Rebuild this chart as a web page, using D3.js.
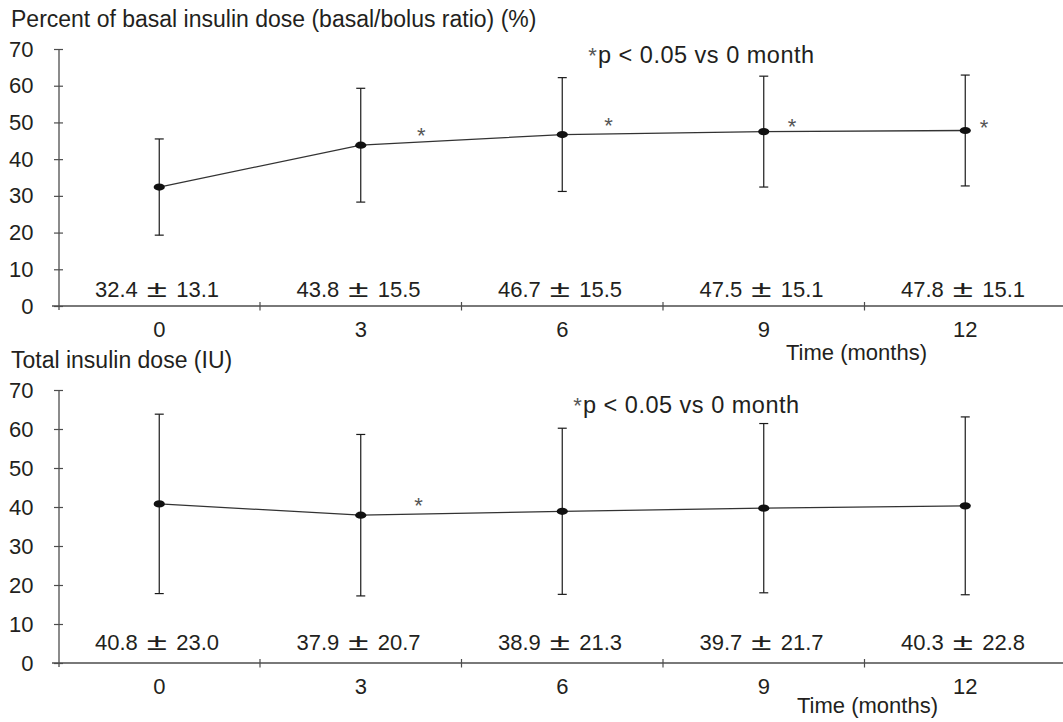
<!DOCTYPE html>
<html>
<head>
<meta charset="utf-8">
<script src="https://cdn.jsdelivr.net/npm/d3@7"></script>
<style>
  html, body { margin: 0; padding: 0; background: #fff; }
  svg { display: block; }
  text { font-family: "Liberation Sans", Arial, Helvetica, sans-serif; fill: #231f20; }
</style>
</head>
<body>
<script>
// ---------------- data ----------------
const categories = ["0", "3", "6", "9", "12"];
const yTicks = [0, 10, 20, 30, 40, 50, 60, 70];

const basalMean = [32.4, 43.8, 46.7, 47.5, 47.8];
const basalSD   = [13.1, 15.5, 15.5, 15.1, 15.1];
const totalMean = [40.8, 37.9, 38.9, 39.7, 40.3];
const totalSD   = [23.0, 20.7, 21.3, 21.7, 22.8];

// significance asterisks: [month, value]
const basalStars = [[3.9, 47.9], [6.69, 50.5], [9.42, 50.3], [12.28, 50.0]];
const totalStars = [[3.86, 41.6]];

const basalTitle = "Percent of basal insulin dose (basal/bolus ratio) (%)";
const totalTitle = "Total insulin dose (IU)";
const xTitle = "Time (months)";
const noteText = "p < 0.05 vs 0 month";

// ---------------- chart ----------------
const W = 1063, H = 722;
const svg = d3.select("body").append("svg").attr("width", W).attr("height", H);
svg.append("rect").attr("width", W).attr("height", H).attr("fill", "#fff");

const FS = 22;
const axisColor = "#4d4d4d";
const x = d3.scaleBand().domain(categories).range([58.5, 1066]);
const bw = x.bandwidth();
const cx = c => x(c) + bw / 2;
const xm = d3.scaleLinear().domain([0, 12]).range([cx("0"), cx("12")]);
const axisX = 59;

function drawPanel(cfg) {
  const g = svg.append("g");
  const y = d3.scaleLinear().domain([0, 70]).range([cfg.y0, cfg.y70]);

  // title
  g.append("text").attr("x", 11).attr("y", cfg.titleY)
    .attr("font-size", 23).text(cfg.title);

  // y axis
  const yAxis = d3.axisLeft(y).tickValues(yTicks).tickSize(5).tickPadding(20.5)
    .tickFormat(d3.format("d"));
  const ya = g.append("g").attr("transform", `translate(${axisX},0)`).call(yAxis);
  ya.select(".domain").remove();
  ya.selectAll(".tick line").attr("x1", 4).attr("x2", -5)
    .attr("stroke", axisColor).attr("stroke-width", 1.2);
  ya.selectAll(".tick text").attr("font-size", FS).attr("fill", "#231f20")
    .attr("font-family", "'Liberation Sans', Arial, Helvetica, sans-serif");
  g.append("line").attr("x1", axisX).attr("x2", axisX)
    .attr("y1", y(70)).attr("y2", cfg.y0 + 4)
    .attr("stroke", axisColor).attr("stroke-width", 1.3);

  // x axis
  g.append("line").attr("x1", 52).attr("x2", W)
    .attr("y1", cfg.y0).attr("y2", cfg.y0)
    .attr("stroke", axisColor).attr("stroke-width", 1.3);
  const boundaries = categories.slice(1).map(c => x(c));
  g.selectAll(".xt").data(boundaries).join("line")
    .attr("x1", d => d).attr("x2", d => d)
    .attr("y1", cfg.y0 - 4).attr("y2", cfg.y0 + 4.5)
    .attr("stroke", axisColor).attr("stroke-width", 1.2);
  const xAxis = d3.axisBottom(x).tickSize(0).tickPadding(15.5);
  const xa = g.append("g").attr("transform", `translate(0,${cfg.y0})`).call(xAxis);
  xa.select(".domain").remove();
  xa.selectAll(".tick text").attr("font-size", FS).attr("fill", "#231f20")
    .attr("font-family", "'Liberation Sans', Arial, Helvetica, sans-serif");

  g.append("text").attr("x", cfg.xTitleX).attr("y", cfg.xTitleY)
    .attr("font-size", FS).text(xTitle);

  const pts = categories.map((c, i) => ({ c, m: cfg.mean[i], sd: cfg.sd[i] }));

  // error bars
  const eb = g.selectAll(".eb").data(pts).join("g");
  eb.append("line")
    .attr("x1", d => cx(d.c)).attr("x2", d => cx(d.c))
    .attr("y1", d => y(d.m + d.sd)).attr("y2", d => y(d.m - d.sd))
    .attr("stroke", "#1a1a1a").attr("stroke-width", 1.2);
  [1, -1].forEach(s => {
    eb.append("line")
      .attr("x1", d => cx(d.c) - 4.5).attr("x2", d => cx(d.c) + 4.5)
      .attr("y1", d => y(d.m + s * d.sd)).attr("y2", d => y(d.m + s * d.sd))
      .attr("stroke", "#1a1a1a").attr("stroke-width", 1.2);
  });

  // line
  g.append("path").datum(pts)
    .attr("d", d3.line().x(d => cx(d.c)).y(d => y(d.m)))
    .attr("fill", "none").attr("stroke", "#333").attr("stroke-width", 1.3);

  // points
  g.selectAll(".pt").data(pts).join("ellipse")
    .attr("cx", d => cx(d.c)).attr("cy", d => y(d.m))
    .attr("rx", 5.6).attr("ry", 3.6).attr("fill", "#111");

  // value labels: mean, wide ±, sd
  const ly = cfg.y0 - cfg.labelOff;
  const vl = g.selectAll(".vl").data(pts).join("g")
    .attr("transform", d => `translate(${cx(d.c) - 2.5},${ly})`);
  vl.append("text").attr("x", -19).attr("text-anchor", "end")
    .attr("font-size", FS).text(d => d.m.toFixed(1));
  vl.append("text").attr("text-anchor", "middle").attr("font-size", 23)
    .attr("transform", "scale(1.6,1)").text("\u00b1");
  vl.append("text").attr("x", 19.5).attr("text-anchor", "start")
    .attr("font-size", FS).text(d => d.sd.toFixed(1));

  // asterisks
  g.selectAll(".st").data(cfg.stars).join("text")
    .attr("x", d => xm(d[0])).attr("y", d => y(d[1]) + 12.5)
    .attr("text-anchor", "middle").attr("font-size", FS)
    .style("fill", "#555").text("*");

  // note
  g.append("text").attr("x", cfg.noteX - 5.5).attr("y", cfg.noteY - 13 + 12.5)
    .attr("text-anchor", "middle").attr("font-size", FS).style("fill", "#555").text("*");
  g.append("text").attr("x", cfg.noteX).attr("y", cfg.noteY)
    .attr("font-size", 23.5).attr("letter-spacing", 0.5).text(noteText);
}

drawPanel({
  title: basalTitle, titleY: 26.5,
  y0: 306, y70: 49,
  mean: basalMean, sd: basalSD, stars: basalStars,
  labelOff: 9.5, xTitleX: 786, xTitleY: 360,
  noteX: 598, noteY: 63.3
});

drawPanel({
  title: totalTitle, titleY: 368,
  y0: 663, y70: 390,
  mean: totalMean, sd: totalSD, stars: totalStars,
  labelOff: 13, xTitleX: 797, xTitleY: 713,
  noteX: 583, noteY: 413.3
});
</script>
</body>
</html>
